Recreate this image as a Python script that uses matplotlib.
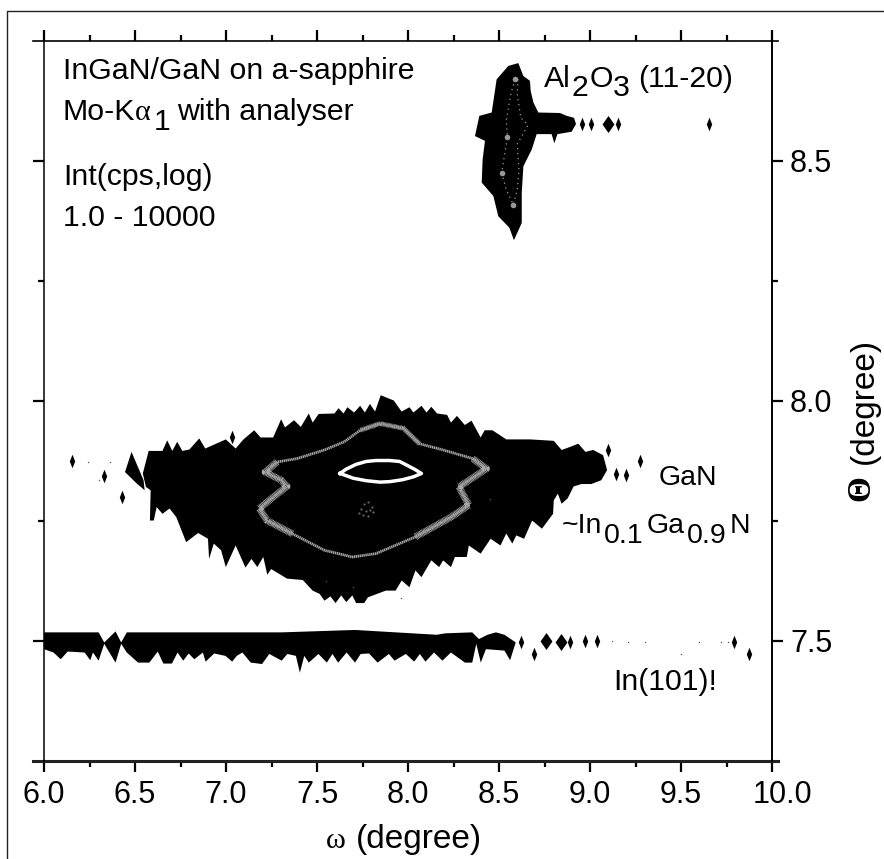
import matplotlib
matplotlib.use("Agg")
import matplotlib.pyplot as plt
from matplotlib.lines import Line2D
from matplotlib.transforms import ScaledTranslation

plt.rcParams["font.family"] = ["Liberation Sans", "DejaVu Sans"]

W, H = 884, 859

# outline of the GaN / InGaN map
gan_w = [6.575, 6.651, 6.677, 6.705, 6.732, 6.760, 6.799, 6.853, 6.886, 6.999, 7.053, 7.096, 7.155, 7.190, 7.259,
         7.303, 7.324, 7.374, 7.411, 7.455, 7.476, 7.509, 7.596, 7.618, 7.646, 7.667, 7.704, 7.737, 7.763, 7.791,
         7.819, 7.850, 7.922, 7.965, 8.008, 8.030, 8.074, 8.102, 8.128, 8.160, 8.215, 8.236, 8.269, 8.312, 8.349,
         8.399, 8.421, 8.464, 8.540, 8.671, 8.801, 8.844, 8.888, 8.936, 8.975, 9.018, 9.072, 9.094,
         9.062, 9.007, 8.953, 8.910, 8.877, 8.844, 8.823, 8.801, 8.797, 8.736, 8.682, 8.638, 8.595, 8.573, 8.540,
         8.508, 8.454, 8.399, 8.334, 8.323, 8.258, 8.236, 8.193, 8.171, 8.128, 8.074, 8.041, 8.008, 7.965, 7.932,
         7.878, 7.780, 7.759, 7.715, 7.694, 7.661, 7.633, 7.602, 7.574, 7.541, 7.515, 7.476, 7.422, 7.335, 7.248,
         7.227, 7.205, 7.172, 7.140, 7.107, 7.053, 6.999, 6.973, 6.933, 6.907, 6.901, 6.847, 6.781, 6.727, 6.690,
         6.651, 6.619, 6.603, 6.582, 6.586, 6.560, 6.543]
gan_t = [7.896, 7.896, 7.918, 7.896, 7.915, 7.896, 7.899, 7.922, 7.901, 7.920, 7.901, 7.920, 7.939, 7.924, 7.924,
         7.962, 7.945, 7.960, 7.946, 7.974, 7.955, 7.973, 7.974, 7.985, 7.974, 7.987, 7.976, 7.990, 7.976, 7.994,
         7.978, 8.012, 8.001, 7.978, 7.987, 7.976, 7.990, 7.976, 7.988, 7.974, 7.971, 7.955, 7.969, 7.950, 7.959,
         7.924, 7.939, 7.939, 7.920, 7.920, 7.917, 7.898, 7.904, 7.911, 7.894, 7.898, 7.887, 7.856,
         7.835, 7.827, 7.827, 7.822, 7.797, 7.786, 7.807, 7.793, 7.765, 7.734, 7.751, 7.713, 7.720, 7.703, 7.724,
         7.699, 7.713, 7.682, 7.699, 7.675, 7.675, 7.654, 7.668, 7.654, 7.668, 7.633, 7.647, 7.612, 7.626, 7.605,
         7.605, 7.591, 7.579, 7.579, 7.595, 7.581, 7.595, 7.579, 7.593, 7.584, 7.598, 7.605, 7.627, 7.630, 7.650,
         7.638, 7.675, 7.654, 7.671, 7.653, 7.699, 7.654, 7.689, 7.703, 7.671, 7.713, 7.725, 7.706, 7.758, 7.776,
         7.765, 7.779, 7.751, 7.751, 7.814, 7.821, 7.849]

# small spur left of the GaN map
spur_w = [6.481, 6.445, 6.510, 6.553, 6.547]
spur_t = [7.894, 7.852, 7.828, 7.814, 7.835]

# grey contour ring
ring_w = [7.281, 7.215, 7.303, 7.335, 7.260, 7.183, 7.226, 7.367, 7.541, 7.694, 7.823, 8.041, 8.236, 8.334, 8.280,
          8.431, 8.356, 8.193, 8.063, 7.975, 7.846, 7.737, 7.650, 7.541, 7.390, 7.281]
ring_t = [7.873, 7.852, 7.835, 7.822, 7.800, 7.776, 7.751, 7.723, 7.689, 7.675, 7.682, 7.717, 7.758, 7.783, 7.821,
          7.859, 7.880, 7.898, 7.911, 7.943, 7.953, 7.939, 7.915, 7.898, 7.880, 7.873]

# white top contour of GaN
lens_w = [7.627, 7.660, 7.715, 7.770, 7.823, 7.900, 7.954, 7.995, 8.040, 8.074, 8.030, 7.970, 7.900, 7.846, 7.770,
          7.700, 7.627]
lens_t = [7.849, 7.858, 7.868, 7.874, 7.876, 7.876, 7.874, 7.866, 7.857, 7.849, 7.842, 7.836, 7.832, 7.831, 7.834,
          7.839, 7.849]

# In(101) band
in_w = [6.000, 6.052, 6.092, 6.130, 6.223, 6.254, 6.269, 6.300, 6.331, 6.393, 6.424, 6.455, 6.517, 6.579, 6.625,
        6.656, 6.703, 6.734, 6.765, 6.795, 6.826, 6.873, 6.888, 6.935, 6.997, 7.034, 7.059, 7.090, 7.136, 7.198,
        7.238, 7.306, 7.337, 7.384, 7.406, 7.430, 7.455, 7.508, 7.554, 7.585, 7.616, 7.663, 7.709, 7.740, 7.786,
        7.833, 7.895, 7.926, 7.988, 8.034, 8.065, 8.096, 8.143, 8.189, 8.236, 8.313, 8.353, 8.375, 8.400, 8.428,
        8.530, 8.561, 8.592, 8.530, 8.483, 8.437, 8.390, 8.353, 8.205, 8.158, 7.709, 7.306, 6.455, 6.424, 6.393,
        6.331, 6.300, 6.000]
in_t = [7.483, 7.476, 7.462, 7.478, 7.476, 7.460, 7.476, 7.459, 7.494, 7.455, 7.494, 7.476, 7.455, 7.455, 7.478,
        7.453, 7.453, 7.476, 7.459, 7.474, 7.462, 7.476, 7.457, 7.474, 7.469, 7.457, 7.469, 7.476, 7.455, 7.452,
        7.473, 7.459, 7.473, 7.469, 7.434, 7.469, 7.455, 7.473, 7.455, 7.473, 7.455, 7.476, 7.455, 7.473, 7.474,
        7.455, 7.473, 7.459, 7.473, 7.457, 7.473, 7.457, 7.476, 7.459, 7.476, 7.455, 7.455, 7.494, 7.455, 7.483,
        7.480, 7.460, 7.497, 7.513, 7.518, 7.513, 7.504, 7.518, 7.516, 7.513, 7.523, 7.518, 7.518, 7.497, 7.520,
        7.497, 7.518, 7.518]

# Al2O3 peak
al_w = [8.551, 8.606, 8.634, 8.670, 8.674, 8.689, 8.716, 8.835, 8.872, 8.912, 8.923, 8.899, 8.853, 8.821, 8.804,
        8.789, 8.707, 8.680, 8.634, 8.625, 8.625, 8.582, 8.557, 8.496, 8.469, 8.405, 8.410, 8.423, 8.368, 8.392,
        8.460, 8.487]
al_t = [8.698, 8.704, 8.677, 8.667, 8.646, 8.622, 8.601, 8.600, 8.594, 8.590, 8.577, 8.561, 8.558, 8.556, 8.537,
        8.556, 8.556, 8.524, 8.489, 8.434, 8.371, 8.335, 8.361, 8.385, 8.427, 8.455, 8.503, 8.542, 8.552, 8.594,
        8.601, 8.670]

# dotted inner contours of the Al2O3 peak
al_in_w = [8.588, 8.565, 8.540, 8.546, 8.515, 8.540, 8.579, 8.600, 8.610, 8.600, 8.660, 8.620, 8.600, 8.605]
al_in_t = [8.670, 8.640, 8.585, 8.549, 8.476, 8.440, 8.409, 8.440, 8.480, 8.535, 8.575, 8.590, 8.640, 8.670]
al_spot_w = [8.588, 8.546, 8.515, 8.579]
al_spot_t = [8.670, 8.549, 8.476, 8.409]

# isolated islands (thin and wide)
thin_w = [6.156, 6.330, 6.430, 7.031, 9.099, 9.144, 9.196, 9.274, 8.623, 8.694, 8.892, 8.972, 9.041, 9.790, 9.871,
          8.954, 9.006, 9.154, 9.654]
thin_t = [7.875, 7.843, 7.799, 7.924, 7.898, 7.847, 7.845, 7.875, 7.497, 7.473, 7.497, 7.499, 7.499, 7.497, 7.473,
          8.577, 8.577, 8.577, 8.577]
wide_w = [8.756, 8.839, 9.097]
wide_t = [7.499, 7.497, 8.577]

# faint single pixels
dot_w = [6.24, 6.36, 6.30, 7.70, 7.55, 7.96, 8.45, 9.12, 9.21, 9.30, 9.60, 9.72, 9.76, 9.50]
dot_t = [7.873, 7.872, 7.835, 7.612, 7.626, 7.590, 7.795, 7.499, 7.497, 7.497, 7.497, 7.497, 7.497, 7.472]

# central speckle
spk_w = [7.76, 7.78, 7.80, 7.74, 7.77, 7.79, 7.75, 7.78, 7.81, 7.73]
spk_t = [7.785, 7.790, 7.780, 7.775, 7.770, 7.772, 7.762, 7.760, 7.768, 7.766]

x_major = [6.0, 6.5, 7.0, 7.5, 8.0, 8.5, 9.0, 9.5, 10.0]
x_minor = [6.25, 6.75, 7.25, 7.75, 8.25, 8.75, 9.25, 9.75]
y_major = [7.5, 8.0, 8.5]
y_minor = [7.75, 8.25]

fig = plt.figure(figsize=(W / 100, H / 100), dpi=100)
ax = fig.add_axes([44 / W, 1 - 761 / H, 728 / W, 720 / H])

ax.fill(gan_w, gan_t, color="black", lw=0)
ax.fill(spur_w, spur_t, color="black", lw=0)
ax.fill(in_w, in_t, color="black", lw=0)
ax.fill(al_w, al_t, color="black", lw=0)

# stippled ring, thicker where the contour widens
ax.plot(ring_w, ring_t, color="#a8a8a8", lw=2.0, ls=(0, (0.5, 0.2)))
ax.plot(ring_w[:8], ring_t[:8], color="#aaaaaa", lw=5, ls=(0, (0.12, 0.08)))
ax.plot(ring_w[11:17], ring_t[11:17], color="#aaaaaa", lw=5, ls=(0, (0.12, 0.08)))
ax.plot(ring_w[18:22], ring_t[18:22], color="#a0a0a0", lw=3.5, ls=(0, (0.15, 0.1)))
ax.plot(lens_w, lens_t, color="white", lw=2.5)
ax.scatter(spk_w, spk_t, s=2.5, color="#666666", lw=0)
ax.plot(al_in_w, al_in_t, color="#999999", lw=0.9, ls=(0, (1, 3)))
ax.scatter(al_spot_w, al_spot_t, s=16, color="#999999", lw=0)

diamond = [(-0.4, 0), (0, 1), (0.4, 0), (0, -1), (-0.4, 0)]
ax.scatter(thin_w, thin_t, marker=diamond, s=95, color="black", lw=0)
ax.scatter(wide_w, wide_t, marker=[(-0.7, 0), (0, 1), (0.7, 0), (0, -1), (-0.7, 0)], s=150, color="black", lw=0)
ax.scatter(dot_w, dot_t, s=1, color="#555555", lw=0)

ax.set_xlim(6, 10)
ax.set_ylim(7.25, 8.75)

for s in ["top", "bottom"]:
    ax.spines[s].set_visible(False)
ax.spines["left"].set_linewidth(1.1)
ax.spines["right"].set_linewidth(1.4)

ax.set_xticks(x_major)
ax.set_xticks(x_minor, minor=True)
ax.set_yticks(y_major)
ax.set_yticks(y_minor, minor=True)
ax.set_xticklabels(["%.1f" % v for v in x_major])
ax.set_yticklabels(["%.1f" % v for v in y_major])
ax.tick_params(axis="both", which="major", length=8, width=1.6, top=True, right=True, left=True,
               labelleft=False, labelright=True, labelsize=22)
ax.tick_params(axis="both", which="minor", length=4, width=1.6, top=True, right=True, left=True)
ax.tick_params(axis="x", which="major", pad=6)
ax.tick_params(axis="y", which="major", pad=5)

# the 10.0 sits right of its tick in the original
last = ax.get_xticklabels()[-1]
last.set_transform(last.get_transform() + ScaledTranslation(0.10, 0, fig.dpi_scale_trans))

# horizontal axis lines overhang the box a little
ax.add_line(Line2D([-11 / 728, 1 + 6 / 728], [0, 0], transform=ax.transAxes, color="#222222", lw=2.2,
                   clip_on=False))
ax.add_line(Line2D([-11 / 728, 1 + 6 / 728], [1, 1], transform=ax.transAxes, color="black", lw=1.2,
                   clip_on=False))

# frame of the scanned page
fig.add_artist(Line2D([6.5 / W, 6.5 / W, 1], [0, 1 - 10.5 / H, 1 - 10.5 / H], color="#222222", lw=1.0))

fs = 21.8
fs2 = 20.5
ax.text(6.104, 8.671, "InGaN/GaN on a-sapphire", fontsize=fs)
ax.text(6.104, 8.585, "Mo-K", fontsize=fs)
ax.text(6.500, 8.585, "α", fontsize=fs, family="Liberation Serif")
ax.text(6.605, 8.564, "1", fontsize=fs)
ax.text(6.731, 8.585, "with analyser", fontsize=fs)
ax.text(6.104, 8.450, "Int(cps,log)", fontsize=fs)
ax.text(6.104, 8.365, "1.0 - 10000", fontsize=fs)

ax.text(8.747, 8.654, "Al", fontsize=fs)
ax.text(8.901, 8.635, "2", fontsize=fs)
ax.text(9.000, 8.654, "O", fontsize=fs)
ax.text(9.126, 8.635, "3", fontsize=fs)
ax.text(9.264, 8.654, "(11-20)", fontsize=fs)

ax.text(9.379, 7.825, "GaN", fontsize=fs2)
ax.text(8.846, 7.725, "~In", fontsize=fs2)
ax.text(9.077, 7.704, "0.1", fontsize=fs2)
ax.text(9.313, 7.725, "Ga", fontsize=fs2)
ax.text(9.533, 7.704, "0.9", fontsize=fs2)
ax.text(9.769, 7.725, "N", fontsize=fs2)
ax.text(9.126, 7.398, "In(101)!", fontsize=fs)

fig.text(326 / W, 1 - 848 / H, "ω", fontsize=fs, family="Liberation Serif")
fig.text(356 / W, 1 - 848 / H, "(degree)", fontsize=24)
fig.text(861 / W, 1 - 501 / H, "Θ", fontsize=24, family="Liberation Serif", rotation=90, ha="center", va="bottom",
         fontweight="bold")
fig.text(864 / W, 1 - 464 / H, "(degree)", fontsize=24, rotation=90, ha="center", va="bottom")

fig.savefig("out.png", dpi=100)
